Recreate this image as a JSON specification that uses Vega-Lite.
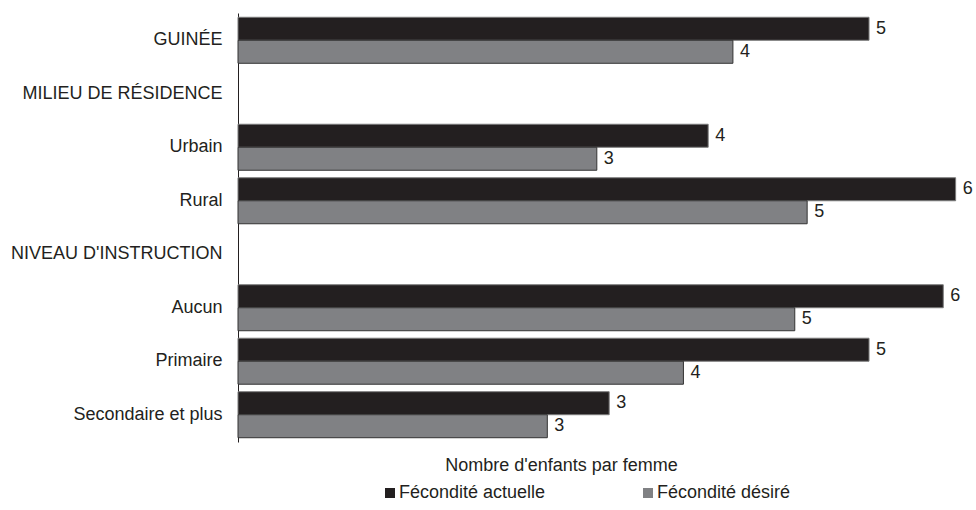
{
  "$schema": "https://vega.github.io/schema/vega-lite/v6.json",
  "width": 730,
  "height": 429,
  "padding": {"left": 10, "top": 13, "right": 5, "bottom": 5},
  "background": "white",
  "config": {
    "view": {"stroke": null},
    "font": "Liberation Sans",
    "text": {"font": "Liberation Sans"}
  },
  "data": {
    "values": [
      {"categorie": "GUINÉE", "serie": "Fécondité actuelle", "valeur": 5.1},
      {"categorie": "GUINÉE", "serie": "Fécondité désiré", "valeur": 4.0},
      {"categorie": "Urbain", "serie": "Fécondité actuelle", "valeur": 3.8},
      {"categorie": "Urbain", "serie": "Fécondité désiré", "valeur": 2.9},
      {"categorie": "Rural", "serie": "Fécondité actuelle", "valeur": 5.8},
      {"categorie": "Rural", "serie": "Fécondité désiré", "valeur": 4.6},
      {"categorie": "Aucun", "serie": "Fécondité actuelle", "valeur": 5.7},
      {"categorie": "Aucun", "serie": "Fécondité désiré", "valeur": 4.5},
      {"categorie": "Primaire", "serie": "Fécondité actuelle", "valeur": 5.1},
      {"categorie": "Primaire", "serie": "Fécondité désiré", "valeur": 3.6},
      {"categorie": "Secondaire et plus", "serie": "Fécondité actuelle", "valeur": 3.0},
      {"categorie": "Secondaire et plus", "serie": "Fécondité désiré", "valeur": 2.5}
    ]
  },
  "encoding": {
    "y": {
      "field": "categorie",
      "type": "nominal",
      "scale": {
        "domain": ["GUINÉE", "MILIEU DE RÉSIDENCE", "Urbain", "Rural", "NIVEAU D'INSTRUCTION", "Aucun", "Primaire", "Secondaire et plus"],
        "paddingInner": 0.14,
        "paddingOuter": 0.08
      },
      "axis": {
        "title": null,
        "ticks": false,
        "grid": false,
        "domain": true,
        "domainColor": "#231f20",
        "domainWidth": 1,
        "labelFontSize": 18,
        "labelColor": "#231f20",
        "labelPadding": 16,
        "labelLimit": 400
      }
    },
    "yOffset": {
      "field": "serie",
      "type": "nominal",
      "scale": {"domain": ["Fécondité actuelle", "Fécondité désiré"], "paddingInner": 0, "paddingOuter": 0}
    },
    "x": {
      "field": "valeur",
      "type": "quantitative",
      "scale": {"domain": [0, 5.9], "nice": false, "zero": true},
      "axis": {
        "title": "Nombre d'enfants par femme",
        "labels": false,
        "ticks": false,
        "domain": false,
        "grid": false,
        "titleFontSize": 18,
        "titleFontWeight": "normal",
        "titleColor": "#231f20",
        "titlePadding": 14,
        "titleX": 323
      }
    }
  },
  "layer": [
    {
      "mark": {"type": "bar", "strokeWidth": 1},
      "encoding": {
        "color": {
          "field": "serie",
          "type": "nominal",
          "scale": {"domain": ["Fécondité actuelle", "Fécondité désiré"], "range": ["#231f20", "#808184"]},
          "legend": {
            "title": null,
            "orient": "none",
            "direction": "horizontal",
            "legendX": 143,
            "legendY": 471,
            "symbolType": "square",
            "symbolSize": 100,
            "symbolStrokeWidth": 0,
            "symbolOpacity": 1,
            "labelFontSize": 18,
            "labelColor": "#231f20",
            "labelOffset": 0,
            "columnPadding": 93,
            "labelLimit": 300
          }
        },
        "stroke": {
          "field": "serie",
          "type": "nominal",
          "scale": {"domain": ["Fécondité actuelle", "Fécondité désiré"], "range": ["#7a7a7a", "#333333"]},
          "legend": null
        }
      }
    },
    {
      "mark": {"type": "text", "align": "left", "baseline": "middle", "dx": 7, "fontSize": 18, "color": "#231f20"},
      "encoding": {
        "text": {"field": "valeur", "type": "quantitative", "format": ".0f"}
      }
    }
  ]
}
